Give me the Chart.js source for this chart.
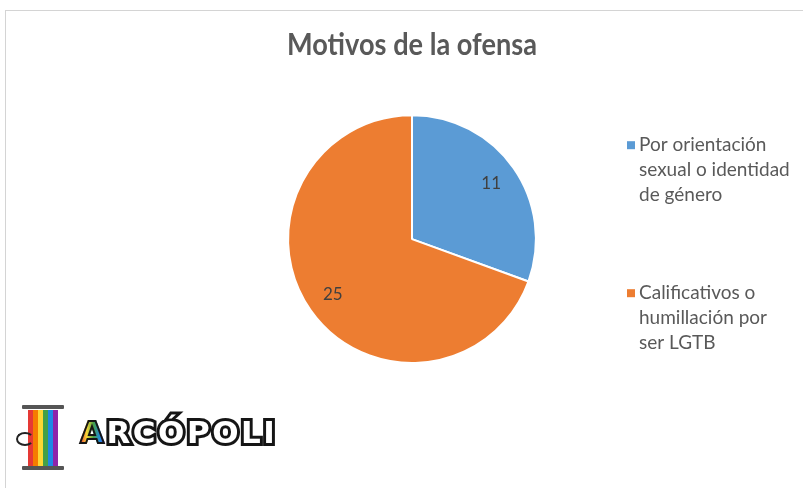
<!DOCTYPE html>
<html>
<head>
<meta charset="utf-8">
<script src="https://cdn.jsdelivr.net/npm/chart.js@4.4.0/dist/chart.umd.min.js"></script>
<style>
  html, body { margin: 0; padding: 0; background: #fff; }
  #wrap { position: relative; width: 803px; height: 488px; overflow: hidden; }
  #frame { position: absolute; left: 5px; top: 10px; width: 900px; height: 600px;
           border-left: 1px solid #d4d4d4; border-top: 1px solid #d4d4d4; }
  #logo { position: absolute; left: 18px; top: 402px; width: 280px; height: 72px; }
  .cap { position: absolute; left: 4px; width: 42px; height: 4px; background: #555; border-radius: 1px; }
  .col { position: absolute; left: 10px; top: 8px; width: 30px; height: 56px;
         background: linear-gradient(90deg, #e53935 0 17%, #f57c00 17% 34%, #fdd835 34% 51%, #43a047 51% 68%, #1e88e5 68% 84%, #8e24aa 84% 100%); }
  .curl { position: absolute; left: -2px; top: 30px; width: 14px; height: 10px; border: 2.5px solid #222;
          border-radius: 50%; border-right-color: transparent; }
  .txt { position: absolute; left: 62px; top: 12px; font-family: "DejaVu Sans", sans-serif; font-weight: bold;
         font-size: 31px; letter-spacing: 2.5px; color: #fff; -webkit-text-stroke: 6px #151515; paint-order: stroke fill; }
  .txt .a { background: linear-gradient(90deg, #e53935, #fdd835, #43a047, #1e88e5, #8e24aa);
            -webkit-background-clip: text; background-clip: text; color: transparent; -webkit-text-stroke: 2px #151515; }
</style>
</head>
<body>
<div id="wrap">
  <div id="frame"></div>
  <canvas id="chart" width="803" height="488"></canvas>
  <div id="logo">
    <div class="cap" style="top:3px"></div>
    <div class="col"></div>
    <div class="cap" style="top:64px"></div>
    <div class="curl"></div>
    <div class="txt"><span class="a">A</span>RCÓPOLI</div>
  </div>
</div>
<script>
// data
const categories = [
  ['Por orientación', 'sexual o identidad', 'de género'],
  ['Calificativos o', 'humillación por', 'ser LGTB']
];
const values = [11, 25];
const colors = ['#5B9BD5', '#ED7D31'];
const chartTitle = 'Motivos de la ofensa';

const FONT = 'Lato, "Open Sans", sans-serif';

// value labels inside the slices
const sliceLabels = {
  id: 'sliceLabels',
  afterDatasetsDraw(chart) {
    const ctx = chart.ctx;
    const meta = chart.getDatasetMeta(0);
    ctx.save();
    ctx.font = '17px ' + FONT;
    ctx.fillStyle = '#404040';
    ctx.textAlign = 'center';
    ctx.textBaseline = 'middle';
    meta.data.forEach((arc, i) => {
      const p = arc.getProps(['x', 'y', 'startAngle', 'endAngle', 'outerRadius'], true);
      const mid = (p.startAngle + p.endAngle) / 2;
      const r = p.outerRadius * 0.78;
      ctx.fillText(String(values[i]), p.x + Math.cos(mid) * r, p.y + Math.sin(mid) * r);
    });
    ctx.restore();
  }
};

// legend on the right, with wrapped labels
const sideLegend = {
  id: 'sideLegend',
  afterDraw(chart) {
    const ctx = chart.ctx;
    const area = chart.chartArea;
    const x0 = area.right + 90;
    const tops = [area.top + 31, area.top + 179];
    ctx.save();
    ctx.font = '19px ' + FONT;
    ctx.textBaseline = 'middle';
    categories.forEach((lines, i) => {
      ctx.fillStyle = colors[i];
      ctx.fillRect(x0, tops[i] - 4, 8, 8);
      ctx.fillStyle = '#595959';
      lines.forEach((ln, j) => ctx.fillText(ln, x0 + 12, tops[i] + j * 25));
    });
    ctx.restore();
  }
};

new Chart(document.getElementById('chart'), {
  type: 'pie',
  data: {
    labels: categories.map(c => c.join(' ')),
    datasets: [{
      data: values,
      backgroundColor: colors,
      borderColor: '#ffffff',
      borderWidth: 2
    }]
  },
  options: {
    responsive: false,
    animation: false,
    layout: { padding: { top: 20, left: 287, right: 266, bottom: 124 } },
    plugins: {
      legend: { display: false },
      tooltip: { enabled: false },
      title: {
        display: true,
        text: chartTitle,
        color: '#595959',
        font: { family: FONT, size: 31, weight: 'bold', lineHeight: 1.2 },
        padding: { top: 6, bottom: 51 }
      }
    }
  },
  plugins: [sliceLabels, sideLegend]
});
</script>
</body>
</html>
